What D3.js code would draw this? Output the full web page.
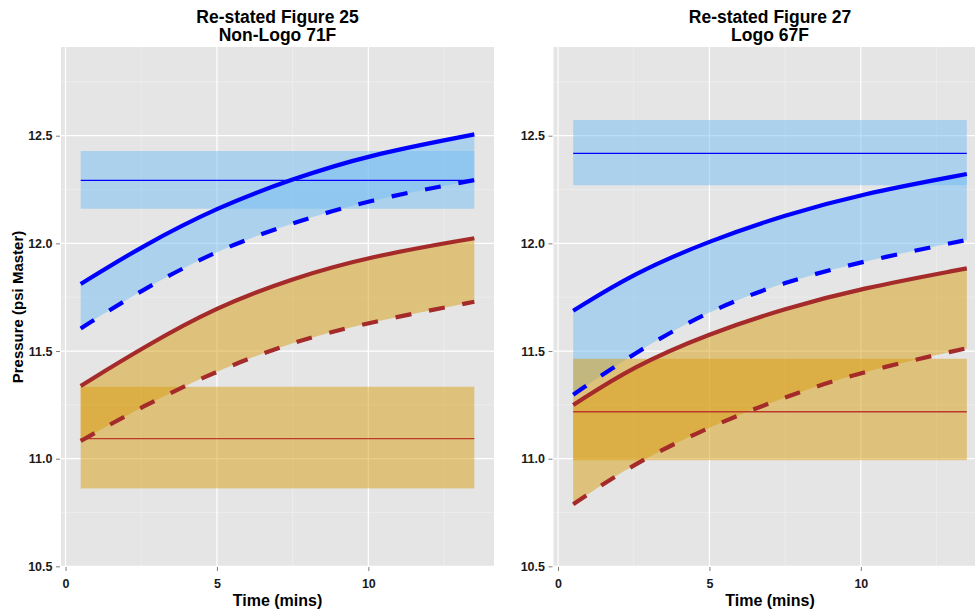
<!DOCTYPE html>
<html>
<head>
<meta charset="utf-8">
<script src="https://cdn.jsdelivr.net/npm/d3@7"></script>
<style>
  body { margin: 0; background: #fff; }
  svg { display: block; font-family: "Liberation Sans", Arial, sans-serif; }
</style>
</head>
<body>
<script>
// sample times (mins) shared by every curve
const times = [0.5, 2.5, 5, 7.5, 10, 13.5];
const xTicks = [0, 5, 10];
const xMinor = [2.5, 7.5, 12.5];
const yTicks = [10.5, 11.0, 11.5, 12.0, 12.5];
const yMinor = [10.75, 11.25, 11.75, 12.25, 12.75];

// Figure 25, Non-Logo 71F
const fig25Titles = ['Re-stated Figure 25', 'Non-Logo 71F'];
const fig25BlueSolid = [11.811, 11.985, 12.167, 12.300, 12.410, 12.506];
const fig25BlueDash = [11.605, 11.783, 11.969, 12.096, 12.201, 12.294];
const fig25RedSolid = [11.338, 11.512, 11.706, 11.838, 11.938, 12.024];
const fig25RedDash = [11.082, 11.241, 11.409, 11.543, 11.633, 11.729];
const fig25BlueBand = [12.161, 12.293, 12.429]; // low, mean, high
const fig25RedBand = [10.862, 11.093, 11.334];

// Figure 27, Logo 67F
const fig27Titles = ['Re-stated Figure 27', 'Logo 67F'];
const fig27BlueSolid = [11.687, 11.861, 12.012, 12.132, 12.229, 12.322];
const fig27BlueDash = [11.297, 11.490, 11.690, 11.822, 11.915, 12.016];
const fig27RedSolid = [11.249, 11.430, 11.582, 11.698, 11.791, 11.884];
const fig27RedDash = [10.788, 10.978, 11.149, 11.288, 11.404, 11.513];
const fig27BlueBand = [12.270, 12.418, 12.573];
const fig27RedBand = [10.993, 11.218, 11.464];

const W = 975, H = 611;
const panelTop = 47, panelBottom = 567;

const svg = d3.select('body').append('svg')
    .attr('width', W).attr('height', H);
svg.append('rect').attr('width', W).attr('height', H).attr('fill', '#fff');

const y = d3.scaleLinear().domain([10.497, 12.912]).range([panelBottom, panelTop]);

const panels = [
    { id: 'p25', left: 61, right: 494, titles: fig25Titles, yTitle: true,
      blueSolid: fig25BlueSolid, blueDash: fig25BlueDash, redSolid: fig25RedSolid,
      redDash: fig25RedDash, blueBand: fig25BlueBand, redBand: fig25RedBand },
    { id: 'p27', left: 553.5, right: 986.5, titles: fig27Titles, yTitle: false,
      blueSolid: fig27BlueSolid, blueDash: fig27BlueDash, redSolid: fig27RedSolid,
      redDash: fig27RedDash, blueBand: fig27BlueBand, redBand: fig27RedBand }
];

const blueFill = '#74bdf4', redFill = '#d79d11';

function drawPanel(p) {
    const x = d3.scaleLinear().domain([-0.15, 14.15]).range([p.left, p.right]);
    const g = svg.append('g');

    g.append('clipPath').attr('id', 'clip-' + p.id)
        .append('rect')
        .attr('x', p.left).attr('y', panelTop)
        .attr('width', p.right - p.left).attr('height', panelBottom - panelTop);

    // panel background + grid
    g.append('rect')
        .attr('x', p.left).attr('y', panelTop)
        .attr('width', p.right - p.left).attr('height', panelBottom - panelTop)
        .attr('fill', '#e5e5e5');

    const grid = g.append('g').attr('clip-path', `url(#clip-${p.id})`);
    const gridLine = (vals, vertical, width, color) => {
        grid.selectAll(null).data(vals).enter().append('line')
            .attr('x1', d => vertical ? x(d) : p.left)
            .attr('x2', d => vertical ? x(d) : p.right)
            .attr('y1', d => vertical ? panelTop : y(d))
            .attr('y2', d => vertical ? panelBottom : y(d))
            .attr('stroke', color).attr('stroke-width', width);
    };
    gridLine(xMinor, true, 0.6, '#f2f2f2');
    gridLine(yMinor, false, 0.6, '#f2f2f2');
    gridLine(xTicks, true, 1.2, '#fff');
    gridLine(yTicks, false, 1.2, '#fff');

    const plot = g.append('g').attr('clip-path', `url(#clip-${p.id})`);

    const ribbon = d3.area()
        .x(d => x(d.t))
        .y0(d => y(d.lo))
        .y1(d => y(d.hi))
        .curve(d3.curveBasis);
    const line = d3.line()
        .x(d => x(d.t))
        .y(d => y(d.v))
        .curve(d3.curveBasis);

    const t0 = times[0], t1 = times[times.length - 1];

    const layer = (band, solid, dash, fill, meanColor) => {
        plot.append('rect')
            .attr('x', x(t0)).attr('width', x(t1) - x(t0))
            .attr('y', y(band[2])).attr('height', y(band[0]) - y(band[2]))
            .attr('fill', fill).attr('fill-opacity', 0.5);
        plot.append('path')
            .datum(times.map((t, i) => ({ t, lo: dash[i], hi: solid[i] })))
            .attr('d', ribbon)
            .attr('fill', fill).attr('fill-opacity', 0.5);
        plot.append('line')
            .attr('x1', x(t0)).attr('x2', x(t1))
            .attr('y1', y(band[1])).attr('y2', y(band[1]))
            .attr('stroke', meanColor).attr('stroke-width', 1.3);
    };
    layer(p.blueBand, p.blueSolid, p.blueDash, blueFill, '#0000ff');
    layer(p.redBand, p.redSolid, p.redDash, redFill, '#bb3a2c');

    const curve = (vals, color, dashed) => {
        plot.append('path')
            .datum(times.map((t, i) => ({ t, v: vals[i] })))
            .attr('d', line)
            .attr('fill', 'none')
            .attr('stroke', color)
            .attr('stroke-width', 4.2)
            .attr('stroke-dasharray', dashed ? '16,18' : null);
    };
    curve(p.blueSolid, '#0000ff', false);
    curve(p.blueDash, '#0000ff', true);
    curve(p.redSolid, '#a52a2a', false);
    curve(p.redDash, '#a52a2a', true);

    // axes
    const yAxis = g.append('g')
        .attr('transform', `translate(${p.left - 1},0)`)
        .call(d3.axisLeft(y).tickValues(yTicks).tickFormat(d3.format('.1f'))
            .tickSize(4).tickPadding(3.5));
    const xAxis = g.append('g')
        .attr('transform', `translate(0,${panelBottom})`)
        .call(d3.axisBottom(x).tickValues(xTicks).tickSize(4).tickPadding(8));
    [yAxis, xAxis].forEach(a => {
        a.select('.domain').remove();
        a.selectAll('.tick line').attr('stroke', '#7f7f7f');
        a.selectAll('.tick text')
            .attr('fill', '#1a1a1a')
            .style('font-size', '12.5px')
            .style('font-weight', 'bold')
            .style('font-family', '"Liberation Sans", Arial, sans-serif');
    });

    // titles
    const cx = (p.left + p.right) / 2;
    g.selectAll('.title').data(p.titles).enter().append('text')
        .attr('class', 'title')
        .attr('x', cx)
        .attr('y', (d, i) => 22.7 + i * 18.6)
        .attr('text-anchor', 'middle')
        .style('font-size', '17.5px')
        .style('font-weight', 'bold')
        .attr('fill', '#000')
        .text(d => d);

    g.append('text')
        .attr('x', cx).attr('y', 605.5)
        .attr('text-anchor', 'middle')
        .style('font-size', '16px')
        .style('font-weight', 'bold')
        .text('Time (mins)');

    if (p.yTitle) {
        g.append('text')
            .attr('transform', `translate(23.3,${(panelTop + panelBottom) / 2}) rotate(-90)`)
            .attr('text-anchor', 'middle')
            .style('font-size', '15px')
            .style('font-weight', 'bold')
            .text('Pressure (psi Master)');
    }
}

panels.forEach(drawPanel);
</script>
</body>
</html>
